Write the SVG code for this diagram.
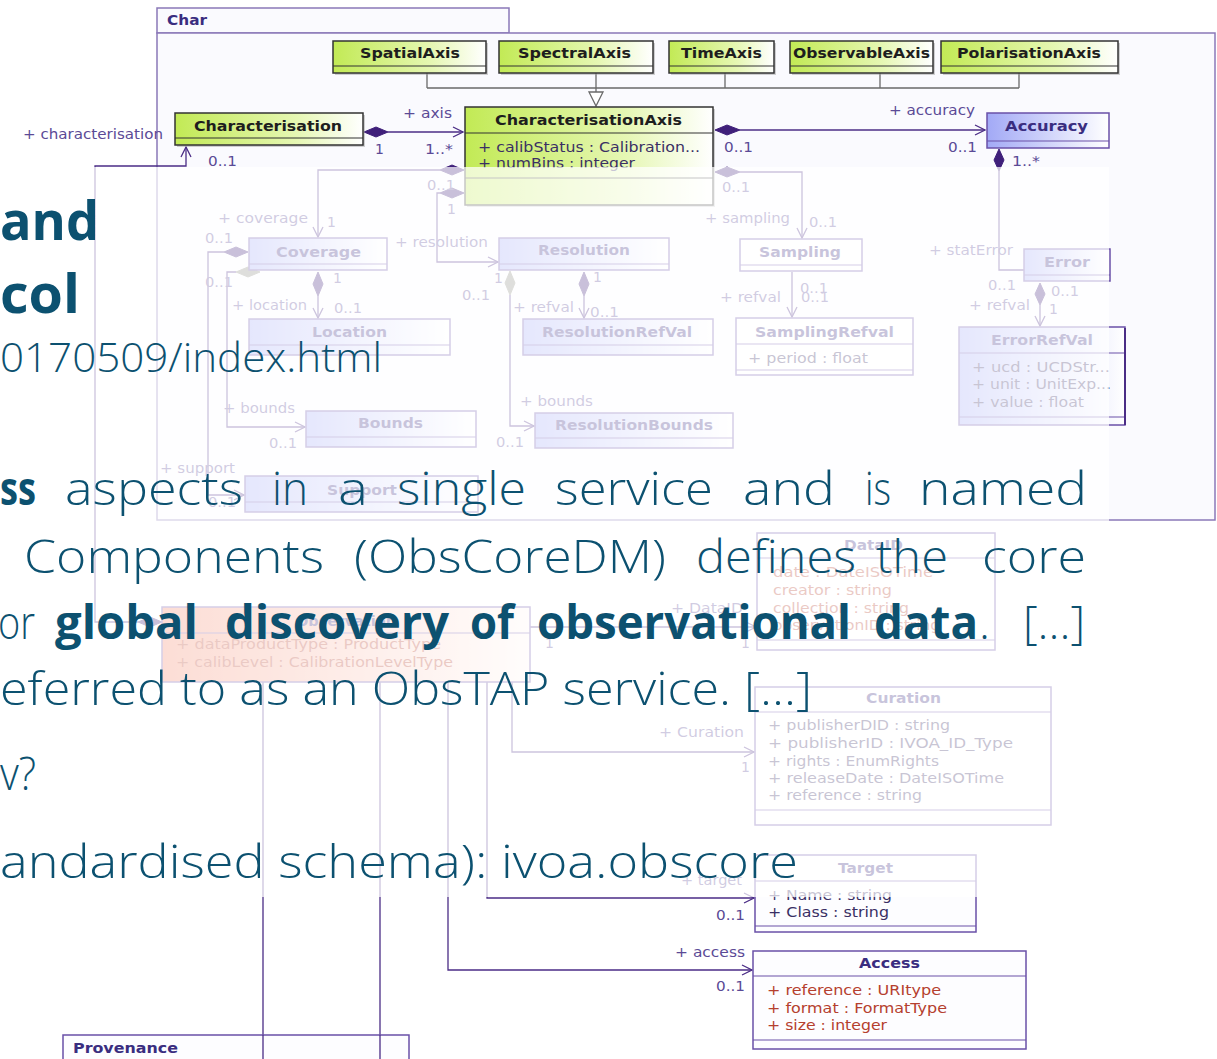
<svg xmlns="http://www.w3.org/2000/svg" width="1217" height="1059" viewBox="0 0 1217 1059">
<defs>
<linearGradient id="gGreen" x1="0" x2="1" y1="0" y2="0"><stop offset="0" stop-color="#c2ea55"/><stop offset="0.65" stop-color="#e6f7b4"/><stop offset="1" stop-color="#ffffff"/></linearGradient>
<linearGradient id="gBlue" x1="0" x2="1" y1="0" y2="0"><stop offset="0" stop-color="#a2a9f6"/><stop offset="1" stop-color="#ffffff"/></linearGradient>
<linearGradient id="gPink" x1="0" x2="1" y1="0" y2="0"><stop offset="0" stop-color="#f4866a"/><stop offset="1" stop-color="#fff6f3"/></linearGradient>
<marker id="arr" viewBox="0 0 12 12" refX="11" refY="6" markerWidth="12" markerHeight="12" markerUnits="userSpaceOnUse" orient="auto"><path d="M1,1 L11,6 L1,11" fill="none" stroke="#4b2d86" stroke-width="1.3"/></marker>
<style>
.ln{fill:none;stroke:#4b2d86;stroke-width:1.3}
.gl{fill:none;stroke:#6a6a6a;stroke-width:1.3}
.dm{fill:#3f1f7a;stroke:#3f1f7a;stroke-width:1}
.dg{fill:#8a8a80;stroke:#8a8a80;stroke-width:1}
.lbl{font-family:"DejaVu Sans",sans-serif;font-size:14px;fill:#5b4a96}
.nm{font-family:"DejaVu Sans",sans-serif;font-size:14px;font-weight:bold}
.ng{fill:#1e1e1e}
.np{fill:#3a2d80}
.at{font-family:"DejaVu Sans",sans-serif;font-size:14px}
.ared{fill:#b5402e}
.adk{fill:#3a2f64}
.bg{stroke:#333333;stroke-width:1.5}
.bp{stroke:#6a50a8;stroke-width:1.5}
.wf{fill:#fdfdff}
.sh{fill:#9a9a9a;opacity:0.45}
.sep{stroke-width:1.2}
.sepg{stroke:#333333}
.sepp{stroke:#6a50a8}
.slide{font-family:"Open Sans","DejaVu Sans",sans-serif;fill:#0c5170;font-weight:300}
.b{font-weight:bold}
</style>
</defs>
<rect width="1217" height="1059" fill="#ffffff"/>

<g id="package-char">
<rect x="157" y="8" width="352" height="25" fill="#fafafe" stroke="#8a78b8" stroke-width="1.5"/>
<rect x="157" y="33" width="1058" height="487" fill="#fafafe" stroke="#8a78b8" stroke-width="1.5"/>
<text class="nm np" x="167" y="25" textLength="40" lengthAdjust="spacingAndGlyphs">Char</text>
</g>

<g id="connectors">
<path class="gl" d="M427,73 V88 M596,73 V92 M725,73 V88 M880,73 V88 M1019,73 V88 M427,88 H1019"/>
<polygon points="589,92 603,92 596,106" fill="#ffffff" stroke="#6a6a6a" stroke-width="1.3"/>
<polygon class="dm" points="364,132 376,127 388,132 376,137"/>
<path class="ln" d="M388,132 H463" marker-end="url(#arr)"/>
<polygon class="dm" points="715,130 727,125 740,130 727,135"/>
<path class="ln" d="M740,130 H985" marker-end="url(#arr)"/>
<polygon class="dm" points="999,149 1004,160 999,171 994,160"/>
<path class="ln" d="M999,171 V270 H1024"/>
<polygon class="dm" points="162,622 150,617 138,622 150,627"/>
<path class="ln" d="M138,622 H95 V166 H186 V147" marker-end="url(#arr)"/>
<polygon class="dm" points="464,170 452,165 440,170 452,175"/>
<path class="ln" d="M440,170 H318 V237" marker-end="url(#arr)"/>
<polygon class="dm" points="464,193 452,188 440,193 452,198"/>
<path class="ln" d="M440,193 H437 V262 H498" marker-end="url(#arr)"/>
<polygon class="dm" points="715,172 727,167 740,172 727,177"/>
<path class="ln" d="M740,172 H802 V238" marker-end="url(#arr)"/>
<polygon class="dm" points="248,252 236,247 224,252 236,257"/>
<path class="ln" d="M224,252 H208 V495 H244" marker-end="url(#arr)"/>
<polygon class="dg" points="260,272 248,267 236,272 248,277"/>
<path class="ln" d="M236,272 H227 V427 H305" marker-end="url(#arr)"/>
<polygon class="dm" points="318,272 323,284 318,296 313,284"/>
<path class="ln" d="M318,296 V318" marker-end="url(#arr)"/>
<polygon class="dg" points="510,271 515,283 510,295 505,283"/>
<path class="ln" d="M510,295 V426 H534" marker-end="url(#arr)"/>
<polygon class="dm" points="584,272 589,284 584,296 579,284"/>
<path class="ln" d="M584,296 V318" marker-end="url(#arr)"/>
<path class="ln" d="M792,272 V317" marker-end="url(#arr)"/>
<polygon class="dm" points="1040,283 1045,294 1040,305 1035,294"/>
<path class="ln" d="M1040,305 V326" marker-end="url(#arr)"/>
<path class="ln" d="M530,627 H756" marker-end="url(#arr)"/>
<path class="ln" d="M512,682 V752 H754" marker-end="url(#arr)"/>
<path class="ln" d="M487,682 V898 H754" marker-end="url(#arr)"/>
<path class="ln" d="M448,682 V970 H752" marker-end="url(#arr)"/>
<path class="ln" d="M263,682 V1059 M380,682 V1059"/>

<text class="lbl" x="403" y="118" textLength="49" lengthAdjust="spacingAndGlyphs">+ axis</text>
<text class="lbl" x="375" y="154">1</text>
<text class="lbl" x="425" y="154" textLength="28" lengthAdjust="spacingAndGlyphs">1..*</text>
<text class="lbl" x="23" y="139" textLength="140" lengthAdjust="spacingAndGlyphs">+ characterisation</text>
<text class="lbl" x="208" y="166" textLength="29" lengthAdjust="spacingAndGlyphs">0..1</text>
<text class="lbl" x="889" y="115" textLength="86" lengthAdjust="spacingAndGlyphs">+ accuracy</text>
<text class="lbl" x="724" y="152" textLength="29" lengthAdjust="spacingAndGlyphs">0..1</text>
<text class="lbl" x="948" y="152" textLength="29" lengthAdjust="spacingAndGlyphs">0..1</text>
<text class="lbl" x="1012" y="166" textLength="28" lengthAdjust="spacingAndGlyphs">1..*</text>
<text class="lbl" x="427" y="190" textLength="28" lengthAdjust="spacingAndGlyphs">0..1</text>
<text class="lbl" x="447" y="214">1</text>
<text class="lbl" x="722" y="192" textLength="28" lengthAdjust="spacingAndGlyphs">0..1</text>
<text class="lbl" x="218" y="223" textLength="90" lengthAdjust="spacingAndGlyphs">+ coverage</text>
<text class="lbl" x="327" y="227">1</text>
<text class="lbl" x="395" y="247" textLength="93" lengthAdjust="spacingAndGlyphs">+ resolution</text>
<text class="lbl" x="705" y="223" textLength="85" lengthAdjust="spacingAndGlyphs">+ sampling</text>
<text class="lbl" x="809" y="227" textLength="28" lengthAdjust="spacingAndGlyphs">0..1</text>
<text class="lbl" x="929" y="255" textLength="84" lengthAdjust="spacingAndGlyphs">+ statError</text>
<text class="lbl" x="988" y="290" textLength="28" lengthAdjust="spacingAndGlyphs">0..1</text>
<text class="lbl" x="205" y="243" textLength="28" lengthAdjust="spacingAndGlyphs">0..1</text>
<text class="lbl" x="205" y="287" textLength="28" lengthAdjust="spacingAndGlyphs">0..1</text>
<text class="lbl" x="333" y="283">1</text>
<text class="lbl" x="232" y="310" textLength="75" lengthAdjust="spacingAndGlyphs">+ location</text>
<text class="lbl" x="334" y="313" textLength="28" lengthAdjust="spacingAndGlyphs">0..1</text>
<text class="lbl" x="494" y="283">1</text>
<text class="lbl" x="462" y="300" textLength="28" lengthAdjust="spacingAndGlyphs">0..1</text>
<text class="lbl" x="593" y="282">1</text>
<text class="lbl" x="513" y="312" textLength="61" lengthAdjust="spacingAndGlyphs">+ refval</text>
<text class="lbl" x="590" y="317" textLength="29" lengthAdjust="spacingAndGlyphs">0..1</text>
<text class="lbl" x="720" y="302" textLength="61" lengthAdjust="spacingAndGlyphs">+ refval</text>
<text class="lbl" x="800" y="293" textLength="28" lengthAdjust="spacingAndGlyphs">0..1</text>
<text class="lbl" x="801" y="302" textLength="28" lengthAdjust="spacingAndGlyphs">0..1</text>
<text class="lbl" x="1051" y="296" textLength="28" lengthAdjust="spacingAndGlyphs">0..1</text>
<text class="lbl" x="1049" y="314">1</text>
<text class="lbl" x="969" y="310" textLength="61" lengthAdjust="spacingAndGlyphs">+ refval</text>
<text class="lbl" x="223" y="413" textLength="72" lengthAdjust="spacingAndGlyphs">+ bounds</text>
<text class="lbl" x="269" y="448" textLength="28" lengthAdjust="spacingAndGlyphs">0..1</text>
<text class="lbl" x="520" y="406" textLength="73" lengthAdjust="spacingAndGlyphs">+ bounds</text>
<text class="lbl" x="496" y="447" textLength="28" lengthAdjust="spacingAndGlyphs">0..1</text>
<text class="lbl" x="160" y="473" textLength="75" lengthAdjust="spacingAndGlyphs">+ support</text>
<text class="lbl" x="208" y="507" textLength="28" lengthAdjust="spacingAndGlyphs">0..1</text>
<text class="lbl" x="545" y="648">1</text>
<text class="lbl" x="741" y="648">1</text>
<text class="lbl" x="671" y="613" textLength="72" lengthAdjust="spacingAndGlyphs">+ DataID</text>
<text class="lbl" x="659" y="737" textLength="85" lengthAdjust="spacingAndGlyphs">+ Curation</text>
<text class="lbl" x="741" y="772">1</text>
<text class="lbl" x="681" y="885" textLength="61" lengthAdjust="spacingAndGlyphs">+ target</text>
<text class="lbl" x="716" y="920" textLength="29" lengthAdjust="spacingAndGlyphs">0..1</text>
<text class="lbl" x="675" y="957" textLength="70" lengthAdjust="spacingAndGlyphs">+ access</text>
<text class="lbl" x="716" y="991" textLength="29" lengthAdjust="spacingAndGlyphs">0..1</text>
</g>

<g id="node-spatialaxis">
<rect class="sh" x="335" y="43" width="153" height="32"/>
<rect class="bg" x="333" y="41" width="153" height="32" fill="url(#gGreen)"/>
<line class="sep sepg" x1="333" y1="66" x2="486" y2="66"/>
<text class="nm ng" x="360" y="58" textLength="100" lengthAdjust="spacingAndGlyphs">SpatialAxis</text>
</g>
<g id="node-spectralaxis">
<rect class="sh" x="501" y="43" width="154" height="32"/>
<rect class="bg" x="499" y="41" width="154" height="32" fill="url(#gGreen)"/>
<line class="sep sepg" x1="499" y1="66" x2="653" y2="66"/>
<text class="nm ng" x="518" y="58" textLength="113" lengthAdjust="spacingAndGlyphs">SpectralAxis</text>
</g>
<g id="node-timeaxis">
<rect class="sh" x="671" y="43" width="105" height="32"/>
<rect class="bg" x="669" y="41" width="105" height="32" fill="url(#gGreen)"/>
<line class="sep sepg" x1="669" y1="66" x2="774" y2="66"/>
<text class="nm ng" x="681" y="58" textLength="81" lengthAdjust="spacingAndGlyphs">TimeAxis</text>
</g>
<g id="node-observableaxis">
<rect class="sh" x="792" y="43" width="143" height="32"/>
<rect class="bg" x="790" y="41" width="143" height="32" fill="url(#gGreen)"/>
<line class="sep sepg" x1="790" y1="66" x2="933" y2="66"/>
<text class="nm ng" x="793" y="58" textLength="137" lengthAdjust="spacingAndGlyphs">ObservableAxis</text>
</g>
<g id="node-polarisationaxis">
<rect class="sh" x="943" y="43" width="177" height="32"/>
<rect class="bg" x="941" y="41" width="177" height="32" fill="url(#gGreen)"/>
<line class="sep sepg" x1="941" y1="66" x2="1118" y2="66"/>
<text class="nm ng" x="957" y="58" textLength="144" lengthAdjust="spacingAndGlyphs">PolarisationAxis</text>
</g>
<g id="node-characterisation">
<rect class="sh" x="177" y="115" width="188" height="32"/>
<rect class="bg" x="175" y="113" width="188" height="32" fill="url(#gGreen)"/>
<line class="sep sepg" x1="175" y1="138" x2="363" y2="138"/>
<text class="nm ng" x="194" y="131" textLength="148" lengthAdjust="spacingAndGlyphs">Characterisation</text>
</g>
<g id="node-characterisationaxis">
<rect class="sh" x="467" y="109" width="248" height="98"/>
<rect class="bg" x="465" y="107" width="248" height="98" fill="url(#gGreen)"/>
<line class="sep sepg" x1="465" y1="133" x2="713" y2="133"/>
<line class="sep sepg" x1="465" y1="178" x2="713" y2="178"/>
<text class="nm ng" x="495" y="125" textLength="187" lengthAdjust="spacingAndGlyphs">CharacterisationAxis</text>
<text class="at adk" x="478" y="152" textLength="222" lengthAdjust="spacingAndGlyphs">+ calibStatus : Calibration...</text>
<text class="at adk" x="478" y="168" textLength="157" lengthAdjust="spacingAndGlyphs">+ numBins : integer</text>
</g>
<g id="node-accuracy">
<rect class="bp" x="987" y="113" width="122" height="35" fill="url(#gBlue)"/>
<line class="sep sepp" x1="987" y1="141" x2="1109" y2="141"/>
<text class="nm np" x="1005" y="131" textLength="83" lengthAdjust="spacingAndGlyphs">Accuracy</text>
</g>
<g id="node-coverage">
<rect class="bp" x="249" y="238" width="138" height="32" fill="url(#gBlue)"/>
<line class="sep sepp" x1="249" y1="264" x2="387" y2="264"/>
<text class="nm np" x="276" y="257" textLength="85" lengthAdjust="spacingAndGlyphs">Coverage</text>
</g>
<g id="node-resolution">
<rect class="bp" x="499" y="238" width="170" height="32" fill="url(#gBlue)"/>
<line class="sep sepp" x1="499" y1="264" x2="669" y2="264"/>
<text class="nm np" x="538" y="255" textLength="92" lengthAdjust="spacingAndGlyphs">Resolution</text>
</g>
<g id="node-sampling">
<rect class="bp wf" x="740" y="239" width="122" height="32"/>
<line class="sep sepp" x1="740" y1="265" x2="862" y2="265"/>
<text class="nm np" x="759" y="257" textLength="82" lengthAdjust="spacingAndGlyphs">Sampling</text>
</g>
<g id="node-error">
<rect class="bp" x="1024" y="249" width="86" height="32" fill="url(#gBlue)"/>
<line class="sep sepp" x1="1024" y1="275" x2="1110" y2="275"/>
<text class="nm np" x="1044" y="267" textLength="46" lengthAdjust="spacingAndGlyphs">Error</text>
</g>
<g id="node-location">
<rect class="bp" x="249" y="319" width="201" height="36" fill="url(#gBlue)"/>
<line class="sep sepp" x1="249" y1="345" x2="450" y2="345"/>
<text class="nm np" x="312" y="337" textLength="75" lengthAdjust="spacingAndGlyphs">Location</text>
</g>
<g id="node-bounds">
<rect class="bp" x="306" y="411" width="170" height="36" fill="url(#gBlue)"/>
<line class="sep sepp" x1="306" y1="437" x2="476" y2="437"/>
<text class="nm np" x="358" y="428" textLength="65" lengthAdjust="spacingAndGlyphs">Bounds</text>
</g>
<g id="node-resolutionrefval">
<rect class="bp" x="523" y="319" width="190" height="36" fill="url(#gBlue)"/>
<line class="sep sepp" x1="523" y1="345" x2="713" y2="345"/>
<text class="nm np" x="542" y="337" textLength="150" lengthAdjust="spacingAndGlyphs">ResolutionRefVal</text>
</g>
<g id="node-resolutionbounds">
<rect class="bp" x="535" y="413" width="198" height="35" fill="url(#gBlue)"/>
<line class="sep sepp" x1="535" y1="438" x2="733" y2="438"/>
<text class="nm np" x="555" y="430" textLength="158" lengthAdjust="spacingAndGlyphs">ResolutionBounds</text>
</g>
<g id="node-samplingrefval">
<rect class="bp wf" x="736" y="318" width="177" height="57"/>
<line class="sep sepp" x1="736" y1="344" x2="913" y2="344"/>
<line class="sep sepp" x1="736" y1="370" x2="913" y2="370"/>
<text class="nm np" x="755" y="337" textLength="139" lengthAdjust="spacingAndGlyphs">SamplingRefval</text>
<text class="at adk" x="748" y="363" textLength="120" lengthAdjust="spacingAndGlyphs">+ period : float</text>
</g>
<g id="node-errorrefval">
<rect class="bp" x="959" y="327" width="166" height="98" fill="url(#gBlue)"/>
<line class="sep sepp" x1="959" y1="353" x2="1125" y2="353"/>
<line class="sep sepp" x1="959" y1="417" x2="1125" y2="417"/>
<line x1="1125" y1="328" x2="1125" y2="425" stroke="#4b2d86" stroke-width="2"/>
<text class="nm np" x="991" y="345" textLength="102" lengthAdjust="spacingAndGlyphs">ErrorRefVal</text>
<text class="at adk" x="972" y="372" textLength="138" lengthAdjust="spacingAndGlyphs">+ ucd : UCDStr...</text>
<text class="at adk" x="972" y="389" textLength="139" lengthAdjust="spacingAndGlyphs">+ unit : UnitExp...</text>
<text class="at adk" x="972" y="407" textLength="112" lengthAdjust="spacingAndGlyphs">+ value : float</text>
</g>
<g id="node-support">
<rect class="bp" x="245" y="476" width="233" height="36" fill="url(#gBlue)"/>
<line class="sep sepp" x1="245" y1="502" x2="478" y2="502"/>
<text class="nm np" x="327" y="495" textLength="70" lengthAdjust="spacingAndGlyphs">Support</text>
</g>
<g id="node-observation">
<rect class="bp" x="162" y="607" width="368" height="75" fill="url(#gPink)"/>
<line class="sep sepp" x1="162" y1="633" x2="530" y2="633"/>
<text class="nm np" x="296" y="626" textLength="100" lengthAdjust="spacingAndGlyphs">Observation</text>
<text class="at ared" x="176" y="649" textLength="265" lengthAdjust="spacingAndGlyphs">+ dataProductType : ProductType</text>
<text class="at ared" x="176" y="667" textLength="277" lengthAdjust="spacingAndGlyphs">+ calibLevel : CalibrationLevelType</text>
</g>
<g id="node-dataid">
<rect class="bp wf" x="757" y="533" width="238" height="117"/>
<line class="sep sepp" x1="757" y1="558" x2="995" y2="558"/>
<line class="sep sepp" x1="757" y1="640" x2="995" y2="640"/>
<text class="nm np" x="844" y="550" textLength="59" lengthAdjust="spacingAndGlyphs">DataID</text>
<text class="at ared" x="773" y="577" textLength="160" lengthAdjust="spacingAndGlyphs">date : DateISOTime</text>
<text class="at ared" x="773" y="595" textLength="119" lengthAdjust="spacingAndGlyphs">creator : string</text>
<text class="at ared" x="773" y="613" textLength="136" lengthAdjust="spacingAndGlyphs">collection : string</text>
<text class="at ared" x="773" y="630" textLength="167" lengthAdjust="spacingAndGlyphs">observationID : string</text>
</g>
<g id="node-curation">
<rect class="bp wf" x="755" y="687" width="296" height="138"/>
<line class="sep sepp" x1="755" y1="712" x2="1051" y2="712"/>
<line class="sep sepp" x1="755" y1="810" x2="1051" y2="810"/>
<text class="nm np" x="866" y="703" textLength="75" lengthAdjust="spacingAndGlyphs">Curation</text>
<text class="at adk" x="768" y="730" textLength="182" lengthAdjust="spacingAndGlyphs">+ publisherDID : string</text>
<text class="at adk" x="768" y="748" textLength="245" lengthAdjust="spacingAndGlyphs">+ publisherID : IVOA_ID_Type</text>
<text class="at adk" x="768" y="766" textLength="171" lengthAdjust="spacingAndGlyphs">+ rights : EnumRights</text>
<text class="at adk" x="768" y="783" textLength="236" lengthAdjust="spacingAndGlyphs">+ releaseDate : DateISOTime</text>
<text class="at adk" x="768" y="800" textLength="154" lengthAdjust="spacingAndGlyphs">+ reference : string</text>
</g>
<g id="node-target">
<rect class="bp wf" x="755" y="855" width="221" height="77"/>
<line class="sep sepp" x1="755" y1="881" x2="976" y2="881"/>
<line class="sep sepp" x1="755" y1="926" x2="976" y2="926"/>
<text class="nm np" x="838" y="873" textLength="55" lengthAdjust="spacingAndGlyphs">Target</text>
<text class="at adk" x="768" y="900" textLength="124" lengthAdjust="spacingAndGlyphs">+ Name : string</text>
<text class="at adk" x="768" y="917" textLength="121" lengthAdjust="spacingAndGlyphs">+ Class : string</text>
</g>
<g id="node-access">
<rect class="bp wf" x="753" y="951" width="273" height="98"/>
<line class="sep sepp" x1="753" y1="976" x2="1026" y2="976"/>
<line class="sep sepp" x1="753" y1="1040" x2="1026" y2="1040"/>
<text class="nm np" x="859" y="968" textLength="61" lengthAdjust="spacingAndGlyphs">Access</text>
<text class="at ared" x="767" y="995" textLength="174" lengthAdjust="spacingAndGlyphs">+ reference : URItype</text>
<text class="at ared" x="767" y="1013" textLength="180" lengthAdjust="spacingAndGlyphs">+ format : FormatType</text>
<text class="at ared" x="767" y="1030" textLength="120" lengthAdjust="spacingAndGlyphs">+ size : integer</text>
</g>
<g id="node-provenance">
<rect class="bp wf" x="63" y="1035" width="346" height="40"/>
<path class="ln" d="M263,1035 V1059 M380,1035 V1059"/>
<text class="nm np" x="73" y="1053" textLength="105" lengthAdjust="spacingAndGlyphs">Provenance</text>
</g>

<rect id="fade" x="0" y="167" width="1109" height="730" fill="#ffffff" opacity="0.72"/>

<g id="slide-text" class="slide">
<text class="b" x="0" y="240" font-size="54" textLength="99" lengthAdjust="spacingAndGlyphs">and</text>
<text class="b" x="0" y="313" font-size="54" textLength="80" lengthAdjust="spacingAndGlyphs">col</text>
<text x="0" y="372" font-size="40" textLength="382" lengthAdjust="spacingAndGlyphs">0170509/index.html</text>
<g font-size="46">
<text class="b" x="0" y="505" textLength="36" lengthAdjust="spacingAndGlyphs">ss</text>
<text x="65" y="505" textLength="178" lengthAdjust="spacingAndGlyphs">aspects</text>
<text x="272" y="505" textLength="36" lengthAdjust="spacingAndGlyphs">in</text>
<text x="338" y="505" textLength="30" lengthAdjust="spacingAndGlyphs">a</text>
<text x="397" y="505" textLength="129" lengthAdjust="spacingAndGlyphs">single</text>
<text x="555" y="505" textLength="158" lengthAdjust="spacingAndGlyphs">service</text>
<text x="743" y="505" textLength="92" lengthAdjust="spacingAndGlyphs">and</text>
<text x="865" y="505" textLength="26" lengthAdjust="spacingAndGlyphs">is</text>
<text x="919" y="505" textLength="168" lengthAdjust="spacingAndGlyphs">named</text>
<text x="24" y="573" textLength="300" lengthAdjust="spacingAndGlyphs">Components</text>
<text x="354" y="573" textLength="312" lengthAdjust="spacingAndGlyphs">(ObsCoreDM)</text>
<text x="696" y="573" textLength="160" lengthAdjust="spacingAndGlyphs">defines</text>
<text x="876" y="573" textLength="72" lengthAdjust="spacingAndGlyphs">the</text>
<text x="982" y="573" textLength="104" lengthAdjust="spacingAndGlyphs">core</text>
<text x="-2" y="639" textLength="37" lengthAdjust="spacingAndGlyphs">or</text>
<text class="b" x="55" y="639" textLength="143" lengthAdjust="spacingAndGlyphs">global</text>
<text class="b" x="225" y="639" textLength="224" lengthAdjust="spacingAndGlyphs">discovery</text>
<text class="b" x="470" y="639" textLength="44" lengthAdjust="spacingAndGlyphs">of</text>
<text class="b" x="537" y="639" textLength="314" lengthAdjust="spacingAndGlyphs">observational</text>
<text class="b" x="874" y="639" textLength="104" lengthAdjust="spacingAndGlyphs">data</text>
<text x="979" y="639">.</text>
<text x="1023" y="639" textLength="62" lengthAdjust="spacingAndGlyphs">[...]</text>
<text x="0" y="705" textLength="812" lengthAdjust="spacingAndGlyphs">eferred to as an ObsTAP service. [...]</text>
<text x="0" y="790" textLength="36" lengthAdjust="spacingAndGlyphs">v?</text>
<text x="0" y="878" textLength="798" lengthAdjust="spacingAndGlyphs">andardised schema): ivoa.obscore</text>
</g>
</g>
</svg>
